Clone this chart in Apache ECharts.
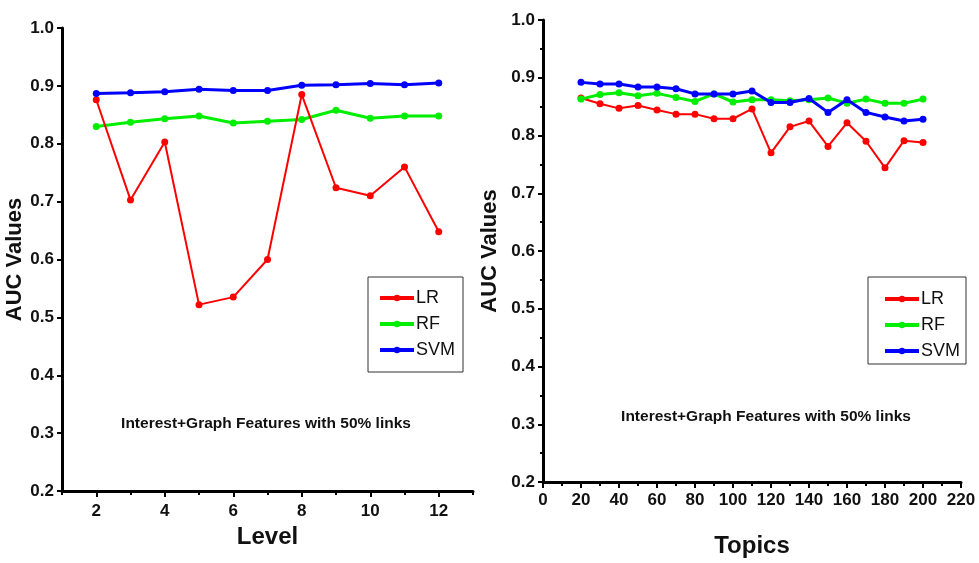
<!DOCTYPE html>
<html>
<head>
<meta charset="utf-8">
<script src="https://cdn.jsdelivr.net/npm/echarts@6/dist/echarts.min.js"></script>
<style>
  html, body { margin: 0; padding: 0; background: #fff; }
  #chart { width: 979px; height: 563px; }
</style>
</head>
<body>
<div id="chart"></div>
<script>
// AUC by level (left panel)
const levels = [2, 3, 4, 5, 6, 7, 8, 9, 10, 11, 12];
const levelLR  = [0.876, 0.703, 0.803, 0.522, 0.535, 0.600, 0.885, 0.724, 0.710, 0.760, 0.648];
const levelRF  = [0.830, 0.837, 0.843, 0.848, 0.836, 0.839, 0.842, 0.858, 0.844, 0.848, 0.848];
const levelSVM = [0.887, 0.888, 0.890, 0.894, 0.892, 0.892, 0.901, 0.902, 0.904, 0.902, 0.905];

// AUC by number of topics (right panel)
const topics = [20, 30, 40, 50, 60, 70, 80, 90, 100, 110, 120, 130, 140, 150, 160, 170, 180, 190, 200];
const topicLR  = [0.865, 0.855, 0.847, 0.852, 0.844, 0.837, 0.837, 0.829, 0.829, 0.846, 0.770, 0.815, 0.825, 0.781, 0.822, 0.790, 0.744, 0.791, 0.788];
const topicRF  = [0.863, 0.871, 0.874, 0.869, 0.873, 0.866, 0.859, 0.872, 0.858, 0.862, 0.862, 0.860, 0.862, 0.865, 0.856, 0.863, 0.856, 0.856, 0.863];
const topicSVM = [0.892, 0.889, 0.889, 0.884, 0.884, 0.881, 0.872, 0.872, 0.872, 0.877, 0.857, 0.857, 0.864, 0.840, 0.862, 0.840, 0.832, 0.825, 0.828];

const seriesNames = ['LR', 'RF', 'SVM'];
const seriesColors = ['#ff0000', '#00ee00', '#0000ff'];
const levelLabels = [2, 4, 6, 8, 10, 12];
const levelMinorTicks = [1, 3, 5, 7, 9, 11, 13];
const noteText = 'Interest+Graph Features with 50% links';

const sansFamily = 'Liberation Sans, Arial, sans-serif';
const tickFont = { fontFamily: sansFamily, fontWeight: 'bold', fontSize: 17, color: '#111' };
const axisLineStyle = { show: true, lineStyle: { color: '#000', width: 3 } };

const pairs = (xs, ys) => xs.map((x, i) => [x, ys[i]]);

function yAxisFor(gridIndex, minor, gap) {
  return {
    type: 'value', gridIndex, min: 0.2, max: 1.0, interval: 0.1,
    name: 'AUC Values', nameLocation: 'middle', nameGap: gap, nameRotate: 90,
    nameTextStyle: { fontFamily: sansFamily, fontWeight: 'bold', fontSize: 22, color: '#111' },
    axisLine: axisLineStyle,
    axisTick: { show: true, inside: false, length: 5, lineStyle: { color: '#000', width: 2 } },
    minorTick: { show: minor, splitNumber: 2, length: 3, lineStyle: { color: '#000', width: 2 } },
    splitLine: { show: false },
    axisLabel: { ...tickFont, margin: 8, formatter: v => v.toFixed(1) }
  };
}

function lineSeries(name, color, data, xi, yi, z) {
  return {
    name, type: 'line', data, xAxisIndex: xi, yAxisIndex: yi, z,
    symbol: 'circle', symbolSize: 7,
    lineStyle: { color, width: name === 'LR' ? 2 : 3 },
    itemStyle: { color },
    emphasis: { disabled: true },
    animation: false
  };
}

const legendBase = {
  orient: 'vertical',
  data: seriesNames,
  itemWidth: 34, itemHeight: 8, itemGap: 8,
  lineStyle: { width: 4 },
  borderColor: '#333', borderWidth: 1, borderRadius: 0,
  textStyle: { fontFamily: sansFamily, fontSize: 18, color: '#111', padding: [0, 0, 0, -3] }
};

const chart = echarts.init(document.getElementById('chart'), null, { renderer: 'canvas' });

chart.setOption({
  backgroundColor: '#fff',
  animation: false,
  color: seriesColors,
  grid: [
    { left: 62, right: 506, top: 28, bottom: 72 },
    { left: 543, right: 18, top: 20, bottom: 71 }
  ],
  xAxis: [
    {
      type: 'value', gridIndex: 0, min: 1, max: 13, interval: 1, position: 'bottom',
      name: 'Level', nameLocation: 'middle', nameGap: 32,
      nameTextStyle: { fontFamily: sansFamily, fontWeight: 'bold', fontSize: 24, color: '#111' },
      axisLine: axisLineStyle,
      axisTick: { show: true, length: 6, customValues: levelLabels, lineStyle: { color: '#000', width: 2 } },
      axisLabel: { ...tickFont, margin: 12, customValues: levelLabels },
      splitLine: { show: false }
    },
    {
      type: 'value', gridIndex: 0, min: 1, max: 13, interval: 1, position: 'bottom',
      axisLine: { show: false },
      axisTick: { show: true, length: 4, customValues: levelMinorTicks, lineStyle: { color: '#000', width: 2 } },
      axisLabel: { show: false },
      splitLine: { show: false }
    },
    {
      type: 'value', gridIndex: 1, min: 0, max: 220, interval: 20, position: 'bottom',
      name: 'Topics', nameLocation: 'middle', nameGap: 52,
      nameTextStyle: { fontFamily: sansFamily, fontWeight: 'bold', fontSize: 24, color: '#111' },
      axisLine: axisLineStyle,
      axisTick: { show: true, length: 6, lineStyle: { color: '#000', width: 2 } },
      minorTick: { show: true, splitNumber: 2, length: 4, lineStyle: { color: '#000', width: 2 } },
      axisLabel: { ...tickFont, margin: 10 },
      splitLine: { show: false }
    }
  ],
  yAxis: [yAxisFor(0, false, 36), yAxisFor(1, true, 42)],
  legend: [
    { ...legendBase, left: 368, top: 277, padding: [12, 8, 13, 10] },
    { ...legendBase, left: 868, top: 277, padding: [13, 6, 4, 15] }
  ],
  graphic: [
    { type: 'text', x: 266, y: 424, style: { text: noteText, align: 'center', verticalAlign: 'middle',
      font: 'bold 15.5px "Liberation Sans", Arial, sans-serif', fill: '#111' } },
    { type: 'text', x: 766, y: 417, style: { text: noteText, align: 'center', verticalAlign: 'middle',
      font: 'bold 15.5px "Liberation Sans", Arial, sans-serif', fill: '#111' } }
  ],
  series: [
    lineSeries('RF', seriesColors[1], pairs(levels, levelRF), 0, 0, 2),
    lineSeries('LR', seriesColors[0], pairs(levels, levelLR), 0, 0, 3),
    lineSeries('SVM', seriesColors[2], pairs(levels, levelSVM), 0, 0, 4),
    lineSeries('LR', seriesColors[0], pairs(topics, topicLR), 2, 1, 2),
    lineSeries('RF', seriesColors[1], pairs(topics, topicRF), 2, 1, 3),
    lineSeries('SVM', seriesColors[2], pairs(topics, topicSVM), 2, 1, 4)
  ]
});
</script>
</body>
</html>
